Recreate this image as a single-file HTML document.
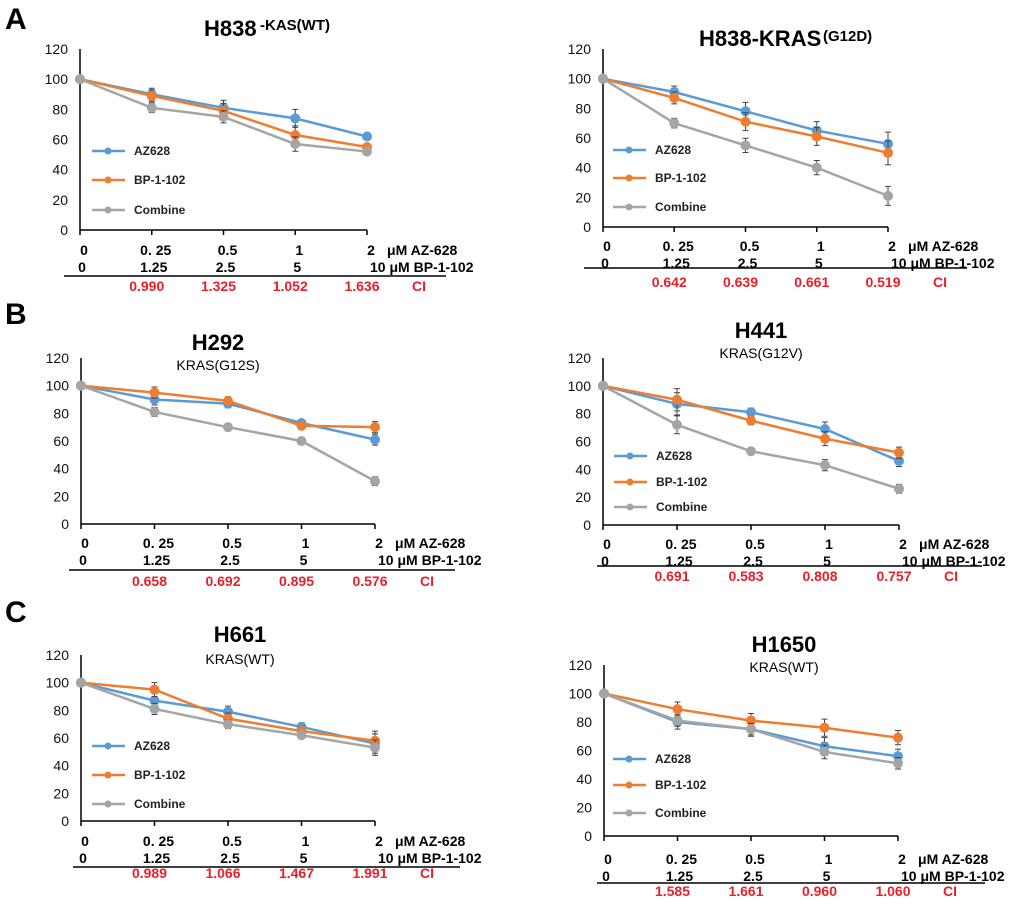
<!DOCTYPE html>
<html><head><meta charset="utf-8"><style>
html,body{margin:0;padding:0;background:#fff}
svg{display:block;font-family:"Liberation Sans",Arial,sans-serif}
</style></head><body>
<svg id="fig" width="1020" height="914" viewBox="0 0 1020 914" xmlns="http://www.w3.org/2000/svg">
<text x="5" y="29" font-size="30" font-weight="bold">A</text>
<text x="5" y="324" font-size="30" font-weight="bold">B</text>
<text x="5" y="622" font-size="30" font-weight="bold">C</text>
</svg>
<script>
const categories = [0, 0.25, 0.5, 1, 2];
const yTicks = [0, 20, 40, 60, 80, 100, 120];
const azLabels = ["0", "0. 25", "0.5", "1", "2"];
const bpLabels = ["0", "1.25", "2.5", "5", "10"];
const seriesNames = ["AZ628", "BP-1-102", "Combine"];
// H838 KRAS(WT)
const h838wtAZ = [100, 90, 81, 74, 62];
const h838wtBP = [100, 89, 79, 63, 55];
const h838wtCO = [100, 81, 75, 57, 52];
const h838wtErr = [1, 4, 5, 6, 2];
const h838wtCI = ["0.990", "1.325", "1.052", "1.636"];
// H838 KRAS(G12D)
const h838mAZ = [100, 91, 78, 65, 56];
const h838mBP = [100, 87, 71, 61, 50];
const h838mCO = [100, 70, 55, 40, 21];
const h838mErr = [1, 4, 6, 6, 8];
const h838mCI = ["0.642", "0.639", "0.661", "0.519"];
// H292
const h292AZ = [100, 90, 87, 73, 61];
const h292BP = [100, 95, 89, 71, 70];
const h292CO = [100, 81, 70, 60, 31];
const h292Err = [1, 4, 3, 2, 4];
const h292CI = ["0.658", "0.692", "0.895", "0.576"];
// H441
const h441AZ = [100, 87, 81, 69, 46];
const h441BP = [100, 90, 75, 62, 52];
const h441CO = [100, 72, 53, 43, 26];
const h441Err = [1, 8, 3, 5, 4];
const h441CI = ["0.691", "0.583", "0.808", "0.757"];
// H661
const h661AZ = [100, 87, 79, 68, 56];
const h661BP = [100, 95, 74, 65, 58];
const h661CO = [100, 81, 70, 62, 53];
const h661Err = [1, 5, 4, 3, 7];
const h661CI = ["0.989", "1.066", "1.467", "1.991"];
// H1650
const h1650AZ = [100, 80, 75, 63, 56];
const h1650BP = [100, 89, 81, 76, 69];
const h1650CO = [100, 81, 75, 59, 51];
const h1650Err = [1, 5, 5, 6, 5];
const h1650CI = ["1.585", "1.661", "0.960", "1.060"];

const NS = "http://www.w3.org/2000/svg";
const svg = document.getElementById("fig");
const COLORS = ["#5b9bd5", "#ed7d31", "#a5a5a5"];
function mk(tag, attrs, parent, txt) {
  const e = document.createElementNS(NS, tag);
  for (const k in attrs) e.setAttribute(k, attrs[k]);
  if (txt !== undefined) e.textContent = txt;
  (parent || svg).appendChild(e);
  return e;
}
function panel(p) {
  const g = mk("g", {});
  
  
  const n = categories.length;
  const xs = i => p.ax + (p.xe - p.ax) * i / (n - 1);
  const ys = v => p.y0 - (p.y0 - p.y120) * v / 120;
  p.title(g);
  const ya = mk("line", {x1: p.ax, y1: p.y120, x2: p.ax, y2: p.y0, stroke: "#000", "stroke-width": 1.5}, g);
  
  
  const xa = mk("line", {x1: p.ax, y1: p.y0, x2: p.xe, y2: p.y0, stroke: "#000", "stroke-width": 1.5}, g);
  
  
  yTicks.forEach(v => {
    const t = mk("text", {x: p.ax - 12, y: ys(v) + 5, "font-size": 14, "text-anchor": "end", fill: "#111"}, g, String(v));
    
    
  });
  categories.forEach((c, i) => {
    const tk = mk("line", {x1: xs(i), y1: p.y0, x2: xs(i), y2: p.y0 + 5, stroke: "#000", "stroke-width": 1.5}, g);
    
    
  });
  const all = [p.az, p.bp, p.co];
  all.forEach((vals, s) => {
    const pts = vals.map((v, i) => xs(i) + "," + ys(v)).join(" ");
    const pl = mk("polyline", {points: pts, fill: "none", stroke: COLORS[s], "stroke-width": 2.5}, g);
    
    
    vals.forEach((v, i) => {
      const e = p.err[i] * (s === 2 ? 0.8 : 1);
      if (i > 0) {
        const eb = mk("path", {d: `M${xs(i)},${ys(v+e)}V${ys(v-e)}M${xs(i)-3},${ys(v+e)}H${xs(i)+3}M${xs(i)-3},${ys(v-e)}H${xs(i)+3}`, stroke: "#444", "stroke-width": 1, fill: "none"}, g);
        
        
      }
      const c = mk("circle", {cx: xs(i), cy: ys(v), r: 5, fill: COLORS[s]}, g);
      
      
    });
  });
  if (p.leg) {
    seriesNames.forEach((nm, s) => {
      const y = p.leg[s];
      const l = mk("line", {x1: p.legX, y1: y, x2: p.legX + 33, y2: y, stroke: COLORS[s], "stroke-width": 2.5}, g);
      
      
      const c = mk("circle", {cx: p.legX + 16, cy: y, r: 3.5, fill: COLORS[s]}, g);
      
      
      const t = mk("text", {x: p.legX + 42, y: y + 4, "font-size": 12, "font-weight": "bold", fill: "#222"}, g, nm);
      
      
    });
  }
  categories.forEach((c, i) => {
    const t1 = mk("text", {x: xs(i) + 4, y: p.r1, "font-size": 14, "font-weight": "bold", "text-anchor": "middle"}, g, azLabels[i]);
    
    
    if (i < n - 1) {
      const t2 = mk("text", {x: xs(i) + 2, y: p.r2, "font-size": 14, "font-weight": "bold", "text-anchor": "middle"}, g, bpLabels[i]);
      
      
    }
  });
  const u1 = mk("text", {x: xs(n - 1) + 20, y: p.r1, "font-size": 14, "font-weight": "bold"}, g, "μM AZ-628");
  
  
  const u2 = mk("text", {x: xs(n - 1) + 3, y: p.r2, "font-size": 14, "font-weight": "bold"}, g, "10 μM BP-1-102");
  
  
  const hl = mk("line", {x1: p.lx1, y1: p.ly, x2: p.lx2, y2: p.ly, stroke: "#000", "stroke-width": 1.5}, g);
  
  
  p.ci.forEach((v, i) => {
    const t = mk("text", {x: xs(i + 1) - 5, y: p.cy, "font-size": 14, "font-weight": "bold", fill: "#e8202a", "text-anchor": "middle"}, g, v);
    
    
  });
  const ci = mk("text", {x: xs(n - 1) + 45, y: p.cy, "font-size": 14, "font-weight": "bold", fill: "#e8202a"}, g, "CI");
  
  
}
function twoLineTitle(cx, y1, y2, main, sub) {
  return g => {
    const a = mk("text", {x: cx, y: y1, "font-size": 22, "font-weight": "bold", "text-anchor": "middle"}, g, main);
    
    
    const b = mk("text", {x: cx, y: y2, "font-size": 14, "text-anchor": "middle"}, g, sub);
    
    
  };
}
panel({name: "chart-h838-wt", ax: 80, xe: 367, y0: 230, y120: 49, az: h838wtAZ, bp: h838wtBP, co: h838wtCO, err: h838wtErr, ci: h838wtCI,
  leg: [151, 180, 210], legX: 92, r1: 255, r2: 272, ly: 276, lx1: 64, lx2: 446, cy: 291,
  title: g => {
    const a = mk("text", {x: 204, y: 36, "font-size": 22, "font-weight": "bold"}, g, "H838");
    
    
    const b = mk("text", {x: 260, y: 30, "font-size": 15, "font-weight": "bold"}, g, "-KAS(WT)");
    
    
  }});
panel({name: "chart-h838-g12d", ax: 603, xe: 888, y0: 227, y120: 49, az: h838mAZ, bp: h838mBP, co: h838mCO, err: h838mErr, ci: h838mCI,
  leg: [150, 178, 207], legX: 613, r1: 251, r2: 268, ly: 268, lx1: 584, lx2: 967, cy: 287,
  title: g => {
    const a = mk("text", {x: 699, y: 46, "font-size": 22, "font-weight": "bold"}, g, "H838-KRAS");
    
    
    const b = mk("text", {x: 823, y: 41, "font-size": 15, "font-weight": "bold"}, g, "(G12D)");
    
    
  }});
panel({name: "chart-h292", ax: 81, xe: 375, y0: 524, y120: 358, az: h292AZ, bp: h292BP, co: h292CO, err: h292Err, ci: h292CI,
  leg: null, r1: 548, r2: 565, ly: 570, lx1: 69, lx2: 455, cy: 586,
  title: twoLineTitle(218, 350, 370, "H292", "KRAS(G12S)")});
panel({name: "chart-h441", ax: 603, xe: 899, y0: 525, y120: 358, az: h441AZ, bp: h441BP, co: h441CO, err: h441Err, ci: h441CI,
  leg: [456, 482, 507], legX: 614, r1: 549, r2: 566, ly: 566, lx1: 597, lx2: 982, cy: 581,
  title: twoLineTitle(761, 338, 358, "H441", "KRAS(G12V)")});
panel({name: "chart-h661", ax: 81, xe: 375, y0: 821, y120: 655, az: h661AZ, bp: h661BP, co: h661CO, err: h661Err, ci: h661CI,
  leg: [746, 775, 804], legX: 92, r1: 846, r2: 863, ly: 867, lx1: 73, lx2: 460, cy: 878,
  title: twoLineTitle(240, 642, 664, "H661", "KRAS(WT)")});
panel({name: "chart-h1650", ax: 604, xe: 898, y0: 836, y120: 665, az: h1650AZ, bp: h1650BP, co: h1650CO, err: h1650Err, ci: h1650CI,
  leg: [759, 785, 813], legX: 613, r1: 864, r2: 881, ly: 883, lx1: 597, lx2: 985, cy: 896,
  title: twoLineTitle(784, 652, 672, "H1650", "KRAS(WT)")});
</script>
</body></html>
